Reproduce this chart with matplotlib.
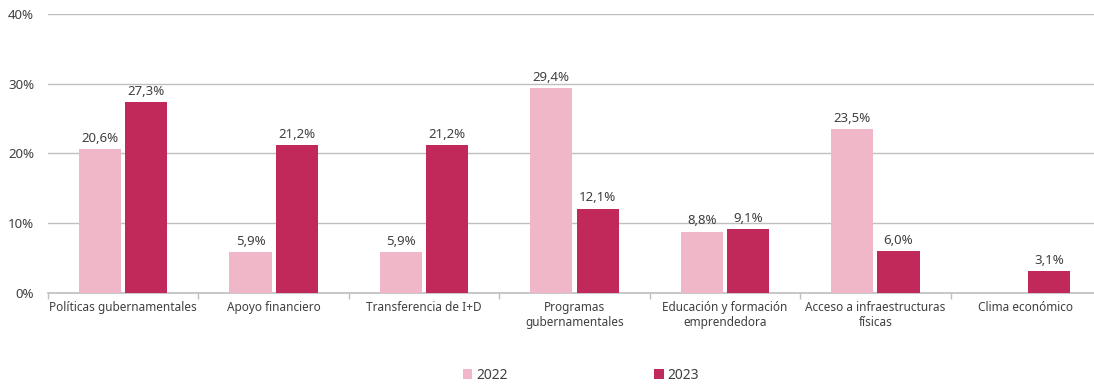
import numpy as np
import matplotlib
matplotlib.use('Agg')
import matplotlib.pyplot as plt

# datos
categorias = ['Políticas gubernamentales', 'Apoyo financiero', 'Transferencia de I+D',
              'Programas\ngubernamentales', 'Educación y formación\nemprendedora',
              'Acceso a infraestructuras\nfísicas', 'Clima económico']
valores_2022 = [20.6, 5.9, 5.9, 29.4, 8.8, 23.5, np.nan]
valores_2023 = [27.3, 21.2, 21.2, 12.1, 9.1, 6.0, 3.1]
series = ['2022', '2023']

plt.rcParams['font.family'] = ['Noto Sans', 'DejaVu Sans']
col_2022 = '#F0B7C8'
col_2023 = '#C0295A'
texto = '#404040'

fig = plt.figure(figsize=(10.94, 3.85), dpi=100)
ax = fig.add_axes([0.0439, 0.239, 0.9625, 0.725])

x = np.arange(len(categorias))
ancho = 0.28
off = 0.154
b1 = ax.bar(x - off, valores_2022, ancho, color=col_2022, label=series[0], zorder=3)
b2 = ax.bar(x + off, valores_2023, ancho, color=col_2023, label=series[1], zorder=3)

def etiquetar(barras, vals):
    for b, v in zip(barras, vals):
        if np.isnan(v):
            continue
        ax.text(b.get_x() + b.get_width() / 2, v + 0.6, f'{v:.1f}%'.replace('.', ','),
                ha='center', va='bottom', fontsize=9.5, color=texto)

etiquetar(b1, valores_2022)
etiquetar(b2, valores_2023)

ax.set_xlim(-0.5, len(categorias) - 0.5)
ax.set_ylim(0, 40)
ax.set_yticks([0, 10, 20, 30, 40])
ax.set_yticklabels([f'{v}%' for v in [0, 10, 20, 30, 40]])
ax.yaxis.grid(True, color='#BFBFBF', linewidth=1, zorder=0)
ax.tick_params(axis='y', length=0, labelsize=9.5, colors=texto, pad=10)

ax.set_xticks(x)
ax.set_xticklabels(categorias, fontsize=8.5, color=texto)
ax.tick_params(axis='x', which='major', length=0, pad=6)
ax.set_xticks(np.arange(-0.5, len(categorias)), minor=True)
ax.tick_params(axis='x', which='minor', length=4, color='#BFBFBF', width=1)

for s in ['top', 'right', 'left']:
    ax.spines[s].set_visible(False)
ax.spines['bottom'].set_color('#BFBFBF')
ax.spines['bottom'].set_linewidth(1.2)

fig.legend(handles=[b1, b2], labels=series, loc='center', bbox_to_anchor=(0.531, 0.025),
           ncol=2, frameon=False, fontsize=10, handlelength=0.7, handleheight=0.7,
           handletextpad=0.3, columnspacing=10.5, labelcolor=texto)

plt.savefig('out.png', dpi=100)
